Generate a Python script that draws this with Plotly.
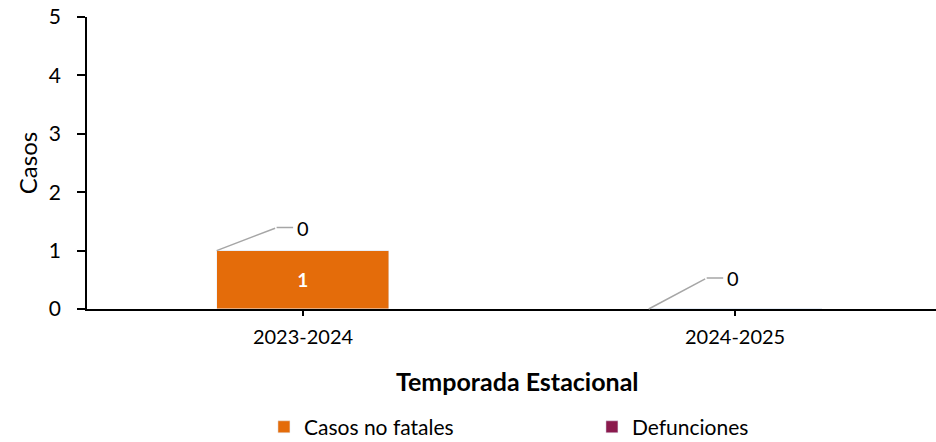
import plotly.graph_objects as go

# datos
temporadas = ["2023-2024", "2024-2025"]
casos_no_fatales = [1, 0]
defunciones = [0, 0]

y_ticks = [0, 1, 2, 3, 4, 5]

# estilo
naranja = "#E46C0A"
vino = "#8B1A4D"
gris_linea = "#A6A6A6"
fuente = "Lato"
ancho_barra = 0.4
# desplazamiento (px) del codo de las líneas guía de las etiquetas
codo = [(60, -23), (58, -31)]

fig = go.Figure()

fig.add_trace(go.Bar(
    name="Casos no fatales",
    x=list(range(len(temporadas))),
    y=casos_no_fatales,
    width=ancho_barra,
    marker_color=naranja,
    text=casos_no_fatales,
    textposition="inside",
    insidetextanchor="middle",
    textfont=dict(color="white", size=19, family=fuente, weight="bold"),
))

fig.add_trace(go.Bar(
    name="Defunciones",
    x=list(range(len(temporadas))),
    y=defunciones,
    width=ancho_barra,
    marker_color=vino,
))

# etiquetas de defunciones con línea guía
for i, (c, d) in enumerate(zip(casos_no_fatales, defunciones)):
    x0 = i - ancho_barra / 2
    y0 = c + d
    dx, dy = codo[i]
    # tramo diagonal
    fig.add_annotation(
        x=x0, y=y0, text=" ", font=dict(size=1),
        showarrow=True, arrowhead=0, arrowwidth=1.5, arrowcolor=gris_linea,
        ax=dx, ay=dy,
    )
    # tramo horizontal + texto
    fig.add_annotation(
        x=x0, y=y0, xshift=dx, yshift=-dy, text=str(d),
        font=dict(size=20, family=fuente, color="black"),
        showarrow=True, arrowhead=0, arrowwidth=1.5, arrowcolor=gris_linea,
        ax=26, ay=0, borderpad=3,
    )

# título del eje x (centrado como en el original)
fig.add_annotation(
    xref="paper", yref="paper", x=0.507, y=0, yshift=-55,
    xanchor="center", yanchor="top", showarrow=False,
    text="<b>Temporada Estacional</b>", font=dict(size=25, family=fuente),
)

fig.update_layout(
    barmode="stack",
    width=936, height=442,
    margin=dict(l=87, r=0, t=17, b=133, autoexpand=False),
    plot_bgcolor="white",
    paper_bgcolor="white",
    font=dict(family=fuente, size=20, color="black"),
    showlegend=True,
    legend=dict(
        orientation="h",
        xref="container", yref="container",
        x=0.282, xanchor="left",
        y=0.08, yanchor="top",
        entrywidth=283, entrywidthmode="pixels",
        font=dict(size=21),
        traceorder="normal",
    ),
    bargap=0,
)

fig.update_xaxes(
    tickmode="array",
    tickvals=list(range(len(temporadas))),
    ticktext=temporadas,
    range=[-0.5, 1.465],
    automargin=False,
    showline=True, linecolor="black", linewidth=1.5,
    ticks="outside", ticklen=5, tickcolor="black", tickwidth=1.5,
    ticklabelstandoff=4,
    tickfont=dict(size=20),
    showgrid=False, zeroline=False,
)

fig.update_yaxes(
    range=[0, 5],
    tickvals=y_ticks,
    automargin=False,
    showline=True, linecolor="black", linewidth=1.5,
    ticks="outside", ticklen=8, tickcolor="black", tickwidth=1.5,
    ticklabelstandoff=12,
    tickfont=dict(size=21),
    showgrid=False, zeroline=False,
    title=dict(text="Casos", font=dict(size=24), standoff=4),
)

fig.write_html(
    "out.html",
    config={"displayModeBar": False},
    post_script="document.body.style.margin='0';",
)
